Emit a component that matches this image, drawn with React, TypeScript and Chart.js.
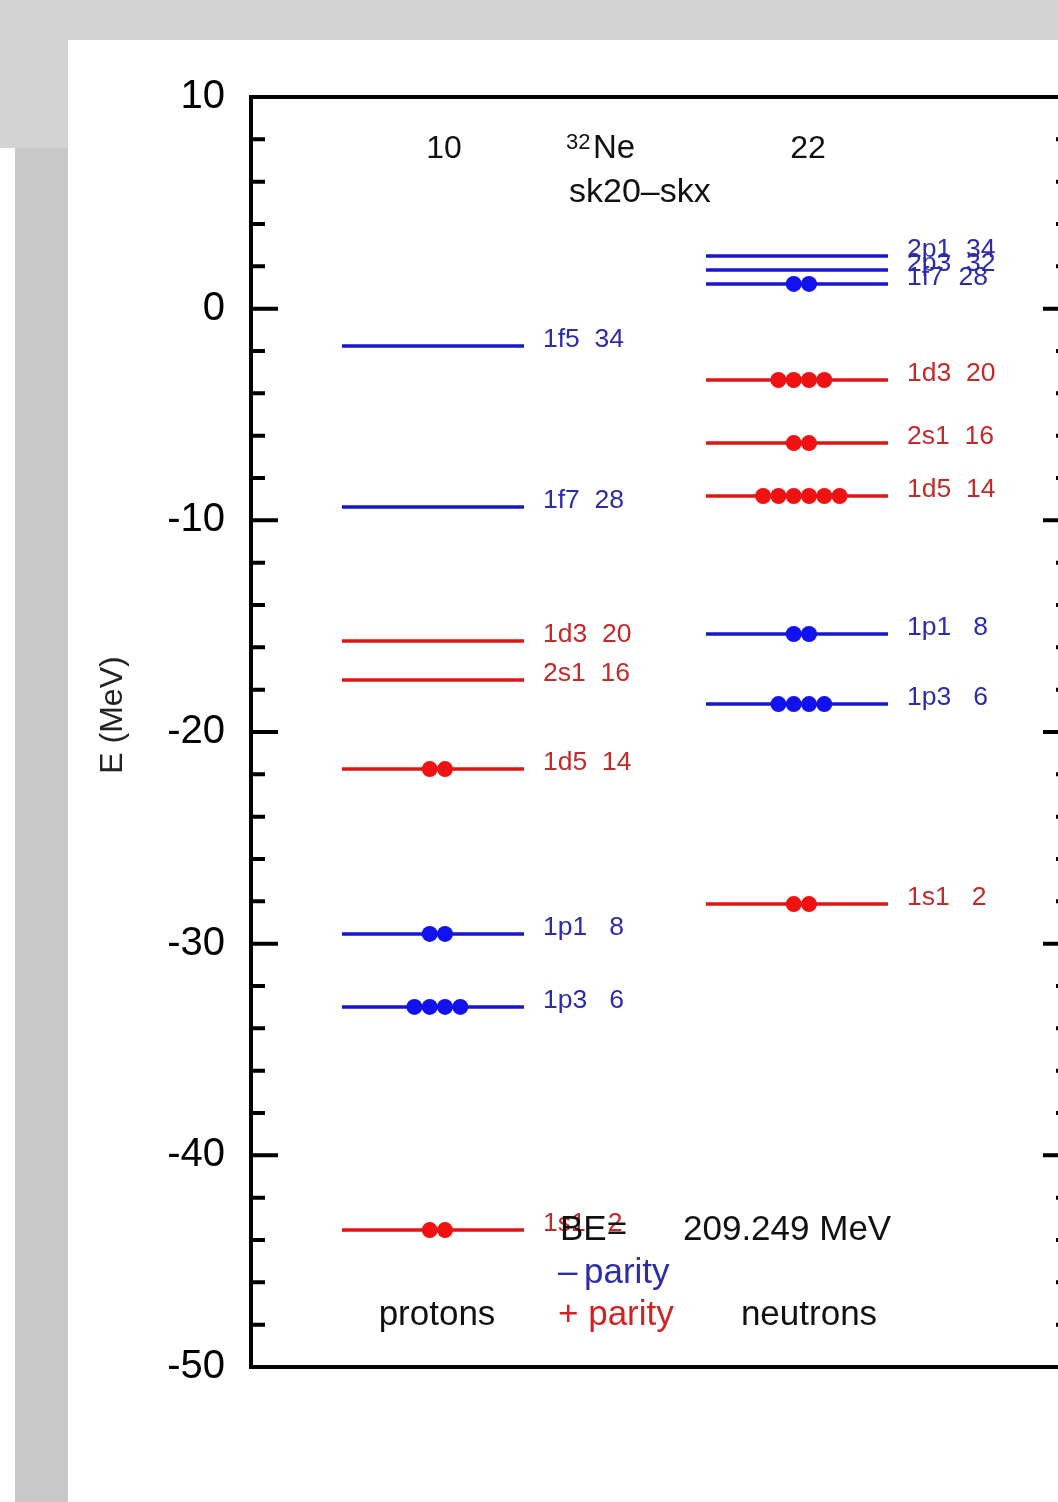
import { useEffect, useRef } from "react";
import { Chart, registerables } from "chart.js";

Chart.register(...registerables);

const FONT = '"Liberation Sans", Arial, Helvetica, sans-serif';

// ---- data ----
const protonNames = ["1f5", "1f7", "1d3", "2s1", "1d5", "1p1", "1p3", "1s1"];
const protonCaps = [34, 28, 20, 16, 14, 8, 6, 2];
const protonEnergies = [-1.76, -9.37, -15.7, -17.54, -21.75, -29.54, -32.99, -43.53];
const protonOcc = [0, 0, 0, 0, 2, 2, 4, 2];
const protonParity = ["-", "-", "+", "+", "+", "-", "-", "+"];

const neutronNames = ["2p1", "2p3", "1f7", "1d3", "2s1", "1d5", "1p1", "1p3", "1s1"];
const neutronCaps = [34, 32, 28, 20, 16, 14, 8, 6, 2];
const neutronEnergies = [2.49, 1.83, 1.17, -3.37, -6.35, -8.85, -15.37, -18.68, -28.13];
const neutronOcc = [0, 0, 2, 4, 2, 6, 2, 4, 2];
const neutronParity = ["-", "-", "-", "+", "+", "+", "-", "-", "+"];

const yTickValues = [10, 0, -10, -20, -30, -40, -50];
const protonNumber = "10";
const neutronNumber = "22";
const nucleusMass = "32";
const nucleusSymbol = "Ne";
const interaction = "sk20\u2013skx";
const bindingEnergy = "209.249 MeV";

// ---- styles / layout ----
const Y_MIN = -50;
const Y_MAX = 10;
const MINOR_STEP = 2;
const MAJOR_STEP = 10;
const PROTON_COL = 1;
const NEUTRON_COL = 3;
const HALF_WIDTH = 0.5;
const DOT_SPACING = 0.084;
const DOT_OFFSET = 0.024;

const RED_LINE = "#e01414";
const BLUE_LINE = "#1616d0";
const RED_DOT = "#f01212";
const BLUE_DOT = "#1212f0";
const RED_TEXT = "#c42a2a";
const BLUE_TEXT = "#2c2caa";

function levelDatasets(col: number, energies: number[], parity: string[]) {
  return energies.map((e, i) => ({
    type: "scatter" as const,
    showLine: true,
    data: [
      { x: col - HALF_WIDTH, y: e },
      { x: col + HALF_WIDTH, y: e },
    ],
    borderColor: parity[i] === "-" ? BLUE_LINE : RED_LINE,
    borderWidth: 3.5,
    pointRadius: 0,
    order: 2,
  }));
}

function dotDataset(col: number, energies: number[], occ: number[], parity: string[]) {
  const data: { x: number; y: number }[] = [];
  const colors: string[] = [];
  energies.forEach((e, i) => {
    const n = occ[i];
    for (let k = 0; k < n; k++) {
      data.push({ x: col + DOT_OFFSET + (k - (n - 1) / 2) * DOT_SPACING, y: e });
      colors.push(parity[i] === "-" ? BLUE_DOT : RED_DOT);
    }
  });
  return {
    type: "scatter" as const,
    data,
    pointRadius: 8,
    pointBackgroundColor: colors,
    pointBorderWidth: 0,
    showLine: false,
    order: 0,
  };
}

const backgroundPlugin = {
  id: "bg",
  beforeDraw(chart: any) {
    const { ctx, width, height } = chart;
    ctx.save();
    ctx.fillStyle = "#ffffff";
    ctx.fillRect(0, 0, width, height);
    ctx.fillStyle = "#d3d3d3";
    ctx.fillRect(0, 0, width, 40);
    ctx.fillRect(0, 40, 68, 108);
    ctx.fillStyle = "#c8c8c8";
    ctx.fillRect(15, 148, 53, height - 148);
    ctx.restore();
  },
};

const annotationPlugin = {
  id: "annot",
  afterDraw(chart: any) {
    const { ctx, chartArea } = chart;
    const xs = chart.scales.x;
    const ys = chart.scales.y;
    const { left, right, top, bottom } = chartArea;
    ctx.save();

    // frame
    ctx.strokeStyle = "#000";
    ctx.lineWidth = 4;
    ctx.strokeRect(left, top, right - left, bottom - top);

    // inner ticks on both sides
    ctx.lineWidth = 4;
    for (let v = Y_MIN; v <= Y_MAX; v += MINOR_STEP) {
      const py = ys.getPixelForValue(v);
      const len = v % MAJOR_STEP === 0 ? 27 : 14;
      ctx.beginPath();
      ctx.moveTo(left, py);
      ctx.lineTo(left + len, py);
      ctx.moveTo(right, py);
      ctx.lineTo(right - len, py);
      ctx.stroke();
    }

    // level labels
    const drawLabels = (col: number, names: string[], caps: number[], energies: number[], parity: string[]) => {
      ctx.font = `26.5px ${FONT}`;
      ctx.textAlign = "left";
      ctx.textBaseline = "alphabetic";
      const lx = xs.getPixelForValue(col + HALF_WIDTH) + 19;
      names.forEach((nm, i) => {
        const py = ys.getPixelForValue(energies[i]);
        ctx.fillStyle = parity[i] === "-" ? BLUE_TEXT : RED_TEXT;
        ctx.fillText(nm + String(caps[i]).padStart(4, " "), lx, py + 1);
      });
    };
    drawLabels(PROTON_COL, protonNames, protonCaps, protonEnergies, protonParity);
    drawLabels(NEUTRON_COL, neutronNames, neutronCaps, neutronEnergies, neutronParity);

    // header
    const pc = xs.getPixelForValue(PROTON_COL);
    const nc = xs.getPixelForValue(NEUTRON_COL);
    ctx.fillStyle = "#111";
    ctx.textAlign = "center";
    ctx.font = `32px ${FONT}`;
    ctx.fillText(protonNumber, pc + 11, top + 61);
    ctx.fillText(neutronNumber, nc + 11, top + 61);
    ctx.textAlign = "left";
    ctx.font = `22px ${FONT}`;
    ctx.fillText(nucleusMass, 566, top + 52);
    ctx.font = `33px ${FONT}`;
    ctx.fillText(nucleusSymbol, 593, top + 61);
    ctx.font = `34px ${FONT}`;
    ctx.fillText(interaction, 569, top + 105);

    // footer
    ctx.font = `35px ${FONT}`;
    ctx.fillStyle = "#111";
    ctx.fillText("BE=", 560, bottom - 127);
    ctx.fillText(bindingEnergy, 683, bottom - 127);
    ctx.fillStyle = BLUE_TEXT;
    ctx.fillText("\u2013", 558, bottom - 84);
    ctx.fillText("parity", 584, bottom - 84);
    ctx.fillStyle = "#d42222";
    ctx.fillText("+ parity", 558, bottom - 42);
    ctx.fillStyle = "#111";
    ctx.textAlign = "center";
    ctx.fillText("protons", pc + 4, bottom - 42);
    ctx.fillText("neutrons", nc + 12, bottom - 42);

    // y title
    ctx.translate(122, (top + bottom) / 2 - 17);
    ctx.rotate(-Math.PI / 2);
    ctx.font = `32px ${FONT}`;
    ctx.fillStyle = "#222";
    ctx.textAlign = "center";
    ctx.fillText("E (MeV)", 0, 0);

    ctx.restore();
  },
};

export default function App() {
  const ref = useRef<HTMLCanvasElement | null>(null);

  useEffect(() => {
    if (!ref.current) return;
    const datasets: any[] = [
      dotDataset(PROTON_COL, protonEnergies, protonOcc, protonParity),
      dotDataset(NEUTRON_COL, neutronEnergies, neutronOcc, neutronParity),
      ...levelDatasets(PROTON_COL, protonEnergies, protonParity),
      ...levelDatasets(NEUTRON_COL, neutronEnergies, neutronParity),
    ];
    const chart = new Chart(ref.current, {
      type: "scatter",
      data: { datasets },
      options: {
        responsive: false,
        animation: false,
        devicePixelRatio: 1,
        layout: { padding: { left: 0, top: 97, right: 10, bottom: 135 } },
        plugins: {
          legend: { display: false },
          tooltip: { enabled: false },
        },
        scales: {
          x: { type: "linear", display: false, min: 0, max: 4.5 },
          y: {
            type: "linear",
            min: Y_MIN,
            max: Y_MAX,
            afterFit: (scale: any) => {
              scale.width = 251;
            },
            afterBuildTicks: (scale: any) => {
              scale.ticks = yTickValues.map((v) => ({ value: v }));
            },
            grid: { display: false, drawTicks: false },
            border: { display: false },
            ticks: {
              autoSkip: false,
              padding: 26,
              color: "#000",
              font: { size: 40, family: FONT },
            },
          },
        },
      },
      plugins: [backgroundPlugin, annotationPlugin],
    });
    return () => chart.destroy();
  }, []);

  return (
    <div
      style={{
        position: "absolute",
        left: 0,
        top: 0,
        width: 1058,
        height: 1502,
        overflow: "hidden",
        background: "#fff",
      }}
    >
      <canvas ref={ref} width={1080} height={1502} style={{ display: "block", width: 1080, height: 1502 }} />
    </div>
  );
}
